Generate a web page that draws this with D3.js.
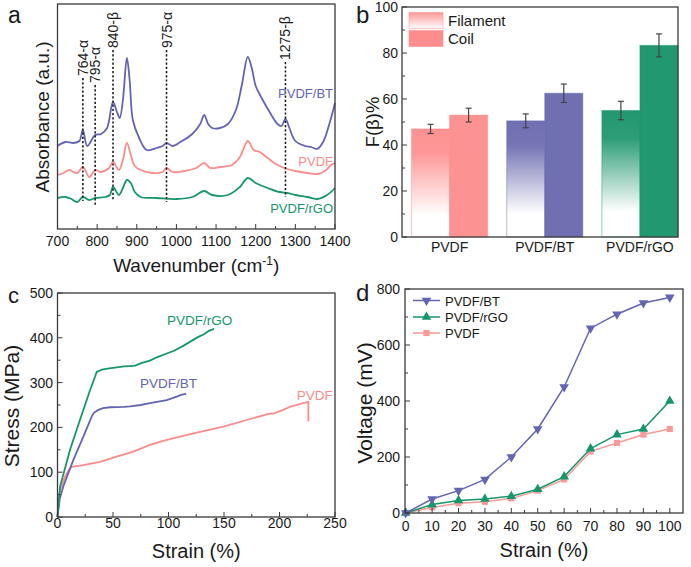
<!DOCTYPE html>
<html><head><meta charset="utf-8">
<script src="https://cdn.jsdelivr.net/npm/d3@7"></script>
<style>body{margin:0;background:#fff}svg{display:block;font-family:"Liberation Sans",Arial,sans-serif}</style>
</head><body><svg id="c" width="691" height="567"></svg>
<script>
// ---------- Panel a : FTIR spectra [wavenumber, absorbance a.u.] ----------
const spectrumBT = [[700,0.83],[720,0.87],[740,0.86],[755,0.88],[764,0.99],[775,0.83],[795,0.94],[810,0.95],[825,1.01],[840,1.27],[850,1.17],[857,1.11],[865,1.29],[875,1.71],[882,1.49],[890,1.09],[905,0.92],[925,0.79],[950,0.81],[965,0.83],[975,0.86],[990,0.83],[1010,0.87],[1040,0.95],[1060,1.05],[1070,1.14],[1080,1.05],[1090,1.01],[1110,1.01],[1130,1.05],[1150,1.19],[1165,1.44],[1180,1.72],[1190,1.61],[1200,1.43],[1215,1.31],[1235,1.17],[1255,1.05],[1265,1.03],[1275,1.10],[1285,1.01],[1300,0.88],[1325,0.83],[1340,0.82],[1355,0.80],[1370,0.87],[1385,1.04],[1400,1.26]];
const spectrumPVDF = [[700,0.54],[715,0.56],[730,0.59],[740,0.57],[750,0.56],[764,0.62],[780,0.52],[795,0.59],[810,0.57],[830,0.61],[840,0.67],[855,0.59],[865,0.69],[875,0.86],[885,0.74],[895,0.63],[910,0.59],[940,0.56],[965,0.57],[975,0.61],[990,0.57],[1020,0.58],[1050,0.61],[1070,0.66],[1085,0.61],[1110,0.62],[1140,0.64],[1160,0.72],[1180,0.88],[1195,0.79],[1210,0.77],[1230,0.71],[1255,0.64],[1280,0.60],[1300,0.58],[1330,0.56],[1355,0.55],[1375,0.58],[1390,0.64],[1400,0.66]];
const spectrumRGO = [[700,0.31],[720,0.32],[735,0.30],[750,0.27],[764,0.32],[780,0.29],[795,0.31],[820,0.32],[832,0.34],[840,0.42],[855,0.34],[865,0.41],[875,0.49],[885,0.46],[895,0.37],[910,0.32],[950,0.31],[1000,0.30],[1040,0.32],[1070,0.38],[1090,0.34],[1130,0.34],[1160,0.42],[1180,0.51],[1200,0.46],[1230,0.41],[1260,0.37],[1280,0.36],[1300,0.34],[1330,0.32],[1355,0.30],[1380,0.34],[1400,0.41]];
const peakPositions = [764, 795, 840, 975, 1275];
const peakLabels = ["764-α", "795-α", "840-β", "975-α", "1275-β"];
const peakTop = [1.51, 1.44, 1.79, 1.79, 1.67];
const peakBottom = [0.28, 0.24, 0.29, 0.27, 0.32];
const wavenumberTicks = [700, 800, 900, 1000, 1100, 1200, 1300, 1400];

// ---------- Panel b : F(beta)% ----------
const groups = ["PVDF", "PVDF/BT", "PVDF/rGO"];
const filament = [47, 50.5, 55];
const filamentErr = [2, 3, 4];
const coil = [53, 62.5, 83.3];
const coilErr = [3, 4, 5];
const fbTicks = [0, 20, 40, 60, 80, 100];

// ---------- Panel c : stress-strain [strain %, stress MPa] ----------
const stressRGO = [[0,0],[2.3,68],[11.3,150],[20.3,217],[29.3,283],[33.8,313],[35.3,324],[40,329],[45,331],[53.3,334],[60,336],[65.3,337],[70,338],[76,344],[83.3,349],[90,357],[98.4,365],[105,371],[113.3,382],[120,392],[126.8,402],[132,408],[136,415],[141,420]];
const stressBT = [[0,0],[2,40],[5.2,68],[14.2,127],[23.2,179],[30.8,224],[33,233],[36.8,239],[41,243],[47.3,245],[60,246],[65.3,247],[75,250],[83.3,254],[98.4,261],[107.4,268.5],[112,273],[116,275]];
const stressPVDF = [[0,0],[1,35],[2.3,60],[6.8,90],[10,105],[12.8,112],[23.2,116],[38.3,123],[53.3,135],[68.3,146],[83.3,161],[98.4,172],[113.3,181],[128.4,190],[149.4,201.5],[170.4,216.5],[189.9,230],[194.4,231],[203.4,239],[209.5,246],[218,252],[226,257],[226,213]];
const strainTicksC = [0, 50, 100, 150, 200, 250];
const stressTicks = [0, 100, 200, 300, 400, 500];

// ---------- Panel d : voltage vs strain ----------
const strainD = [0, 10, 20, 30, 40, 50, 60, 70, 80, 90, 100];
const voltBT = [0, 50, 80, 120, 200, 300, 450, 660, 710, 750, 770];
const voltRGO = [0, 30, 45, 50, 60, 85, 130, 230, 280, 300, 400];
const voltPVDF = [0, 20, 35, 40, 52, 80, 120, 220, 250, 280, 300];
const voltTicks = [0, 200, 400, 600, 800];

// ---------- styles ----------
const BLUE = "#6464b4", PINK = "#fa8c8c", GREEN = "#17966a";
const BAR = {PVDF: "#fd8c8c", "PVDF/BT": "#6767ae", "PVDF/rGO": "#169269"};
const FRAME = "#3a3a3a", TXT = "#1a1a1a";

const svg = d3.select("#c");
const defs = svg.append("defs");

function frame(g, L, R, T, B) {
  g.append("rect").attr("x", L).attr("y", T).attr("width", R - L).attr("height", B - T)
    .attr("fill", "none").attr("stroke", FRAME).attr("stroke-width", 1.3);
}
function xTicks(g, x, B, major, minor, labels, fs, base) {
  minor.forEach(v => g.append("line").attr("x1", x(v)).attr("x2", x(v)).attr("y1", B).attr("y2", B - 3).attr("stroke", FRAME));
  major.forEach(v => g.append("line").attr("x1", x(v)).attr("x2", x(v)).attr("y1", B).attr("y2", B - 5).attr("stroke", FRAME));
  if (labels) major.forEach(v => g.append("text").attr("x", x(v)).attr("y", base).attr("text-anchor", "middle")
    .attr("font-size", fs).attr("fill", TXT).text(v));
}
function yTicks(g, y, L, major, minor, fs, rx) {
  minor.forEach(v => g.append("line").attr("y1", y(v)).attr("y2", y(v)).attr("x1", L).attr("x2", L + 3).attr("stroke", FRAME));
  major.forEach(v => g.append("line").attr("y1", y(v)).attr("y2", y(v)).attr("x1", L).attr("x2", L + 5).attr("stroke", FRAME));
  major.forEach(v => g.append("text").attr("x", rx).attr("y", y(v) + 5).attr("text-anchor", "end")
    .attr("font-size", fs).attr("fill", TXT).text(v));
}
function yTitle(g, cx, cy, txt, fs) {
  return g.append("text").attr("transform", `translate(${cx},${cy}) rotate(-90)`).attr("text-anchor", "middle")
    .attr("font-size", fs).attr("fill", TXT).text(txt);
}
function letter(g, x, y, t, fs) {
  g.append("text").attr("x", x).attr("y", y).attr("font-size", fs).attr("fill", TXT).text(t);
}

// ================= Panel a =================
{
  const L = 57.5, R = 335, T = 4, B = 229;
  const g = svg.append("g");
  const x = d3.scaleLinear().domain([700, 1400]).range([L, R]);
  const y = d3.scaleLinear().domain([0, 2.25]).range([B, T]);
  const line = d3.line().x(d => x(d[0])).y(d => y(d[1])).curve(d3.curveCatmullRom.alpha(0.5));
  [[spectrumBT, BLUE], [spectrumPVDF, PINK], [spectrumRGO, GREEN]].forEach(([s, c]) =>
    g.append("path").attr("d", line(s)).attr("fill", "none").attr("stroke", c).attr("stroke-width", 1.8));
  peakPositions.forEach((p, i) => {
    g.append("line").attr("x1", x(p)).attr("x2", x(p)).attr("y1", y(peakTop[i])).attr("y2", y(peakBottom[i]))
      .attr("stroke", "#111").attr("stroke-width", 1.5).attr("stroke-dasharray", "2.2,2");
    g.append("text").attr("transform", `translate(${x(p) + 5},${y(peakTop[i]) - 2}) rotate(-90)`)
      .attr("font-size", 14).attr("fill", TXT).text(peakLabels[i]);
  });
  frame(g, L, R, T, B);
  xTicks(g, x, B, wavenumberTicks, d3.range(750, 1400, 100), true, 14, 246);
  g.append("text").attr("x", 333).attr("y", 98).attr("text-anchor", "end").attr("font-size", 13).attr("fill", BLUE).text("PVDF/BT");
  g.append("text").attr("x", 333).attr("y", 166).attr("text-anchor", "end").attr("font-size", 13).attr("fill", PINK).text("PVDF");
  g.append("text").attr("x", 333).attr("y", 213).attr("text-anchor", "end").attr("font-size", 13).attr("fill", GREEN).text("PVDF/rGO");
  const xt = g.append("text").attr("x", (L + R) / 2).attr("y", 272).attr("text-anchor", "middle").attr("font-size", 19).attr("fill", TXT);
  xt.append("tspan").text("Wavenumber (cm");
  xt.append("tspan").attr("baseline-shift", "super").attr("font-size", 12).text("-1");
  xt.append("tspan").text(")");
  yTitle(g, 49, 117, "Absorbance (a.u.)", 19);
  letter(g, 8, 23, "a", 23);
}

// ================= Panel b =================
{
  const L = 402, R = 678, T = 7, B = 237;
  const g = svg.append("g");
  const x = d3.scaleLinear().domain([0.5, 3.4]).range([L, R]);
  const y = d3.scaleLinear().domain([0, 100]).range([B, T]);
  const bw = 0.4;
  groups.forEach((name, i) => {
    const c = BAR[name];
    const id = "grad" + i;
    const gr = defs.append("linearGradient").attr("id", id).attr("x1", 0).attr("x2", 0).attr("y1", 0).attr("y2", 1);
    gr.append("stop").attr("offset", 0).attr("stop-color", c).attr("stop-opacity", 0.95);
    gr.append("stop").attr("offset", 0.22).attr("stop-color", c).attr("stop-opacity", 0.9);
    gr.append("stop").attr("offset", 0.8).attr("stop-color", c).attr("stop-opacity", 0.0);
    gr.append("stop").attr("offset", 1).attr("stop-color", c).attr("stop-opacity", 0.0);
    const cx = i + 1;
    g.append("rect").attr("x", x(cx - bw)).attr("width", x(cx) - x(cx - bw)).attr("y", y(filament[i])).attr("height", B - y(filament[i]))
      .attr("fill", `url(#${id})`).attr("stroke", c).attr("stroke-opacity", 0.45).attr("stroke-width", 1);
    g.append("rect").attr("x", x(cx)).attr("width", x(cx + bw) - x(cx)).attr("y", y(coil[i])).attr("height", B - y(coil[i]))
      .attr("fill", c).attr("fill-opacity", 0.95).attr("stroke", c).attr("stroke-opacity", 0.5).attr("stroke-width", 1);
    [[cx - bw / 2, filament[i], filamentErr[i]], [cx + bw / 2, coil[i], coilErr[i]]].forEach(([xx, v, e]) => {
      const px = x(xx);
      g.append("line").attr("x1", px).attr("x2", px).attr("y1", y(v - e)).attr("y2", y(v + e)).attr("stroke", "#444").attr("stroke-width", 1.2);
      [v - e, v + e].forEach(w => g.append("line").attr("x1", px - 3).attr("x2", px + 3).attr("y1", y(w)).attr("y2", y(w)).attr("stroke", "#444").attr("stroke-width", 1.2));
    });
    g.append("text").attr("x", x(cx)).attr("y", 252).attr("text-anchor", "middle").attr("font-size", 14).attr("fill", TXT).text(name);
  });
  frame(g, L, R, T, B);
  yTicks(g, y, L, fbTicks, d3.range(10, 100, 20), 14, 398);
  // legend
  const lg = defs.append("linearGradient").attr("id", "legGrad").attr("x1", 0).attr("x2", 0).attr("y1", 0).attr("y2", 1);
  lg.append("stop").attr("offset", 0).attr("stop-color", BAR.PVDF).attr("stop-opacity", 0.9);
  lg.append("stop").attr("offset", 1).attr("stop-color", BAR.PVDF).attr("stop-opacity", 0);
  g.append("rect").attr("x", 409).attr("y", 12.5).attr("width", 34).attr("height", 16).attr("fill", "url(#legGrad)")
    .attr("stroke", BAR.PVDF).attr("stroke-opacity", 0.5);
  g.append("rect").attr("x", 409).attr("y", 30.5).attr("width", 34).attr("height", 16).attr("fill", BAR.PVDF)
    .attr("stroke", BAR.PVDF).attr("stroke-opacity", 0.5);
  g.append("text").attr("x", 448).attr("y", 26).attr("font-size", 15).attr("fill", TXT).text("Filament");
  g.append("text").attr("x", 448).attr("y", 44).attr("font-size", 15).attr("fill", TXT).text("Coil");
  yTitle(g, 379, 122, "F(β)%", 18.5);
  letter(g, 356, 23, "b", 24);
}

// ================= Panel c =================
{
  const L = 57.5, R = 335, T = 293, B = 517;
  const g = svg.append("g");
  const x = d3.scaleLinear().domain([0, 250]).range([L, R]);
  const y = d3.scaleLinear().domain([0, 500]).range([B, T]);
  const line = d3.line().x(d => x(d[0])).y(d => y(d[1]));
  [[stressPVDF, PINK], [stressBT, BLUE], [stressRGO, GREEN]].forEach(([s, c]) =>
    g.append("path").attr("d", line(s)).attr("fill", "none").attr("stroke", c).attr("stroke-width", 1.8));
  frame(g, L, R, T, B);
  xTicks(g, x, B, strainTicksC, d3.range(25, 250, 50), true, 14, 528);
  yTicks(g, y, L, stressTicks, d3.range(50, 500, 100), 14, 53);
  g.append("text").attr("x", x(98.6)).attr("y", y(428.6)).attr("font-size", 13.5).attr("fill", GREEN).text("PVDF/rGO");
  g.append("text").attr("x", x(74.3)).attr("y", y(288)).attr("font-size", 13.5).attr("fill", BLUE).text("PVDF/BT");
  g.append("text").attr("x", x(215.5)).attr("y", y(261)).attr("font-size", 13.5).attr("fill", PINK).text("PVDF");
  g.append("text").attr("x", (L + R) / 2).attr("y", 558).attr("text-anchor", "middle").attr("font-size", 20).attr("fill", TXT).text("Strain (%)");
  yTitle(g, 19, 406, "Stress (MPa)", 21);
  letter(g, 8, 303, "c", 22);
}

// ================= Panel d =================
{
  const L = 405, R = 683, T = 289, B = 513;
  const g = svg.append("g");
  const x = d3.scaleLinear().domain([0, 105]).range([L + 0.7, R]);
  const y = d3.scaleLinear().domain([0, 800]).range([B, T]);
  const series = [
    {name: "PVDF", v: voltPVDF, c: "#f99a9a", sym: d3.symbolSquare, size: 38, rot: 0},
    {name: "PVDF/rGO", v: voltRGO, c: GREEN, sym: d3.symbolTriangle, size: 40, rot: 0},
    {name: "PVDF/BT", v: voltBT, c: BLUE, sym: d3.symbolTriangle, size: 40, rot: 180}
  ];
  series.forEach(s => {
    const line = d3.line().x((d, i) => x(strainD[i])).y(d => y(d));
    g.append("path").attr("d", line(s.v)).attr("fill", "none").attr("stroke", s.c).attr("stroke-width", 1.5);
    s.v.forEach((v, i) => g.append("path").attr("d", d3.symbol().type(s.sym).size(s.size)())
      .attr("transform", `translate(${x(strainD[i])},${y(v)}) rotate(${s.rot})`).attr("fill", s.c));
  });
  frame(g, L, R, T, B);
  xTicks(g, x, B, strainD, d3.range(5, 105, 10), true, 14, 531);
  yTicks(g, y, L, voltTicks, d3.range(100, 800, 200), 14, 400);
  // legend
  const leg = [series[2], series[1], series[0]];
  const ly = [300.5, 317, 333];
  leg.forEach((s, i) => {
    g.append("line").attr("x1", 413).attr("x2", 440).attr("y1", ly[i]).attr("y2", ly[i]).attr("stroke", s.c).attr("stroke-width", 1.5);
    g.append("path").attr("d", d3.symbol().type(s.sym).size(s.size)()).attr("transform", `translate(426.5,${ly[i]}) rotate(${s.rot})`).attr("fill", s.c);
    g.append("text").attr("x", 445).attr("y", ly[i] + 5).attr("font-size", 13).attr("fill", TXT).text(s.name);
  });
  g.append("text").attr("x", (L + R) / 2).attr("y", 557).attr("text-anchor", "middle").attr("font-size", 20).attr("fill", TXT).text("Strain (%)");
  yTitle(g, 372, 403, "Voltage (mV)", 21);
  letter(g, 356, 301, "d", 24);
}
</script></body></html>
